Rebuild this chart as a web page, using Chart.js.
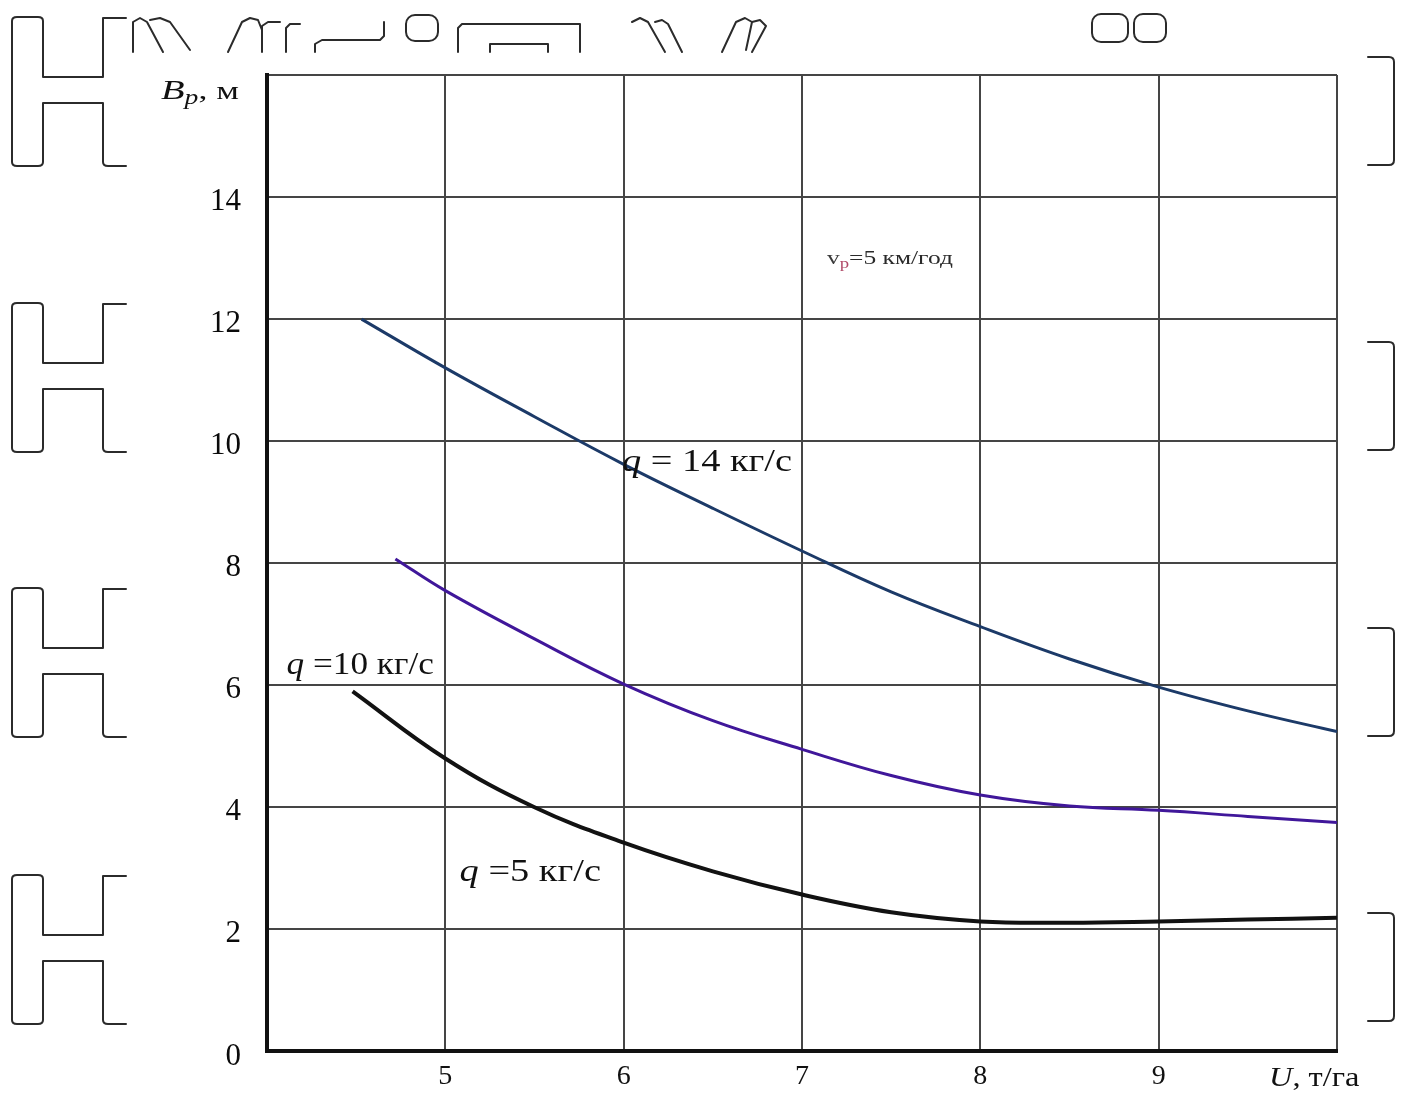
<!DOCTYPE html>
<html>
<head>
<meta charset="utf-8">
<script src="https://cdn.jsdelivr.net/npm/chart.js@4/dist/chart.umd.min.js"></script>
<style>
  html, body { margin: 0; padding: 0; background: #ffffff; }
  #c { display: block; }
</style>
</head>
<body>
<canvas id="c" width="1408" height="1096"></canvas>
<script>
// Working width of the spreader, B_p (m), against application rate U (t/ha)
const seriesLabels = ['q = 14 кг/с', 'q =10 кг/с', 'q =5 кг/с'];

const u14 = [4.53, 5.0, 5.5, 6.0, 6.5, 7.0, 7.5, 8.0, 8.5, 9.0, 9.5, 10.0];
const b14 = [12.0, 11.2, 10.4, 9.62, 8.9, 8.2, 7.53, 6.96, 6.43, 5.97, 5.58, 5.24];

const u10 = [4.72, 5.0, 5.5, 6.0, 6.5, 7.0, 7.5, 8.0, 8.5, 9.0, 9.5, 10.0];
const b10 = [8.07, 7.55, 6.76, 6.02, 5.42, 4.95, 4.52, 4.2, 4.02, 3.95, 3.85, 3.75];

const u5 = [4.48, 5.0, 5.5, 6.0, 6.5, 7.0, 7.5, 8.0, 8.5, 9.0, 9.5, 10.0];
const b5 = [5.9, 4.8, 4.0, 3.42, 2.95, 2.57, 2.28, 2.13, 2.11, 2.13, 2.16, 2.19];

const xTickLabels = ['5', '6', '7', '8', '9'];
const yTickLabels = ['0', '2', '4', '6', '8', '10', '12', '14'];

const SERIF = '"Liberation Serif", "Times New Roman", serif';

function pts(us, bs) { return us.map((u, i) => ({ x: u, y: bs[i] })); }

// draw a run of text pieces (each with its own font / colour / baseline shift)
function drawRich(ctx, x, y, parts, stretch) {
  ctx.save();
  ctx.translate(x, y);
  ctx.scale(stretch || 1, 1);
  let cx = 0;
  for (const p of parts) {
    ctx.font = p.font;
    ctx.fillStyle = p.color || '#111111';
    ctx.textBaseline = 'alphabetic';
    ctx.textAlign = 'left';
    ctx.fillText(p.t, cx, p.dy || 0);
    cx += ctx.measureText(p.t).width + (p.gap || 0);
  }
  ctx.restore();
}

// curve captions and axis titles
const captions = {
  id: 'captions',
  afterDatasetsDraw(chart) {
    const { ctx, scales: { x, y }, chartArea } = chart;
    const it = s => 'italic ' + s + 'px ' + SERIF;
    const rg = s => s + 'px ' + SERIF;

    const splitQ = s => [{ t: 'q', font: it(32) }, { t: s.slice(1), font: rg(32) }];
    drawRich(ctx, x.getPixelForValue(5.99), y.getPixelForValue(9.51), splitQ(seriesLabels[0]), 1.2);
    drawRich(ctx, x.getPixelForValue(4.11), y.getPixelForValue(6.19), splitQ(seriesLabels[1]), 1.1);
    drawRich(ctx, x.getPixelForValue(5.08), y.getPixelForValue(2.8), splitQ(seriesLabels[2]), 1.2);

    drawRich(ctx, x.getPixelForValue(7.14), y.getPixelForValue(12.91), [
      { t: 'v', font: rg(19), color: '#3a3a3a' },
      { t: 'р', font: rg(14), color: '#b04a68', dy: 4 },
      { t: '=5 км/год', font: rg(19), color: '#2a2a2a' }
    ], 1.34);

    // axis titles
    drawRich(ctx, chartArea.left - 106, chartArea.top + 24, [
      { t: 'B', font: it(28) },
      { t: 'p', font: it(20), dy: 5 },
      { t: ', м', font: rg(26) }
    ], 1.38);
    drawRich(ctx, chartArea.right - 68, chartArea.bottom + 35, [
      { t: 'U', font: it(27) },
      { t: ', т/га', font: rg(27) }
    ], 1.2);
  }
};

// page ornaments around the plot frame
const ornaments = {
  id: 'ornaments',
  beforeDraw(chart) {
    const ctx = chart.ctx;
    ctx.save();
    ctx.strokeStyle = '#2b2b2b';
    ctx.lineWidth = 2;
    ctx.lineJoin = 'round';
    ctx.lineCap = 'round';
    for (const t of [17, 303, 588, 875]) {
      ctx.beginPath();
      ctx.moveTo(126, t + 1);
      ctx.lineTo(103, t + 1);
      ctx.lineTo(103, t + 60);
      ctx.lineTo(43, t + 60);
      ctx.lineTo(43, t + 4);
      ctx.quadraticCurveTo(43, t, 38, t);
      ctx.lineTo(17, t);
      ctx.quadraticCurveTo(12, t, 12, t + 4);
      ctx.lineTo(12, t + 145);
      ctx.quadraticCurveTo(12, t + 149, 17, t + 149);
      ctx.lineTo(38, t + 149);
      ctx.quadraticCurveTo(43, t + 149, 43, t + 145);
      ctx.lineTo(43, t + 86);
      ctx.lineTo(103, t + 86);
      ctx.lineTo(103, t + 145);
      ctx.quadraticCurveTo(103, t + 149, 108, t + 149);
      ctx.lineTo(126, t + 149);
      ctx.stroke();
    }
    for (const t of [57, 342, 628, 913]) {
      ctx.beginPath();
      ctx.moveTo(1368, t);
      ctx.lineTo(1389, t);
      ctx.quadraticCurveTo(1394, t, 1394, t + 5);
      ctx.lineTo(1394, t + 103);
      ctx.quadraticCurveTo(1394, t + 108, 1389, t + 108);
      ctx.lineTo(1368, t + 108);
      ctx.stroke();
    }
    // glyph fragments along the top edge
    const strokes = [
      [[133, 52], [133, 22], [140, 18], [147, 22], [163, 52]],
      [[150, 20], [160, 18], [170, 22], [190, 50]],
      [[228, 52], [242, 22], [250, 18], [258, 20], [262, 30]],
      [[262, 52], [262, 26], [268, 22], [280, 22]],
      [[286, 52], [286, 28], [290, 24], [300, 24]],
      [[315, 52], [315, 44], [322, 40], [380, 40], [384, 36], [384, 22]],
      [[458, 52], [458, 28], [462, 24], [580, 24], [580, 52]],
      [[490, 52], [490, 44], [548, 44], [548, 52]],
      [[632, 22], [640, 18], [648, 22], [665, 52]],
      [[655, 22], [662, 20], [668, 24], [682, 52]],
      [[722, 52], [736, 22], [745, 18], [752, 22], [746, 50]],
      [[752, 22], [760, 20], [766, 26], [752, 52]]
    ];
    for (const s of strokes) {
      ctx.beginPath();
      ctx.moveTo(s[0][0], s[0][1]);
      for (let i = 1; i < s.length; i++) ctx.lineTo(s[i][0], s[i][1]);
      ctx.stroke();
    }
    const rings = [[422, 28, 16, 13], [1110, 28, 18, 14], [1150, 28, 16, 14]];
    for (const r of rings) {
      ctx.beginPath();
      ctx.roundRect(r[0] - r[2], r[1] - r[3], r[2] * 2, r[3] * 2, 9);
      ctx.stroke();
    }
    ctx.restore();
  }
};

const lineStyle = (color, width) => ({
  borderColor: color,
  borderWidth: width,
  pointRadius: 0,
  fill: false,
  tension: 0.4
});

new Chart(document.getElementById('c'), {
  type: 'line',
  data: {
    datasets: [
      Object.assign({ label: seriesLabels[0], data: pts(u14, b14) }, lineStyle('#1c3a68', 3)),
      Object.assign({ label: seriesLabels[1], data: pts(u10, b10) }, lineStyle('#40179a', 3)),
      Object.assign({ label: seriesLabels[2], data: pts(u5, b5) }, lineStyle('#121212', 4))
    ]
  },
  options: {
    responsive: false,
    animation: false,
    devicePixelRatio: 1,
    layout: { padding: { top: 75, right: 71, left: 0, bottom: 0 } },
    plugins: { legend: { display: false }, tooltip: { enabled: false } },
    scales: {
      x: {
        type: 'linear',
        min: 4,
        max: 10,
        afterFit(s) { s.height = 43; },
        afterBuildTicks(s) { s.ticks = [4, 5, 6, 7, 8, 9, 10].map(v => ({ value: v })); },
        ticks: {
          autoSkip: false,
          maxRotation: 0,
          padding: 8,
          color: '#111111',
          font: { family: SERIF, size: 28 },
          callback: (v) => xTickLabels.includes(String(v)) ? String(v) : ''
        },
        grid: { color: '#454545', lineWidth: 2, drawTicks: false },
        border: { color: '#111111', width: 4 }
      },
      y: {
        min: 0,
        max: 16,
        afterFit(s) { s.width = 267; },
        ticks: {
          stepSize: 2,
          padding: 26,
          labelOffset: 5,
          color: '#0a0a0a',
          font: { family: SERIF, size: 31 },
          callback: (v) => yTickLabels.includes(String(v)) ? String(v) : ''
        },
        grid: { color: '#454545', lineWidth: 2, drawTicks: false },
        border: { color: '#111111', width: 4 }
      }
    }
  },
  plugins: [ornaments, captions]
});
</script>
</body>
</html>
